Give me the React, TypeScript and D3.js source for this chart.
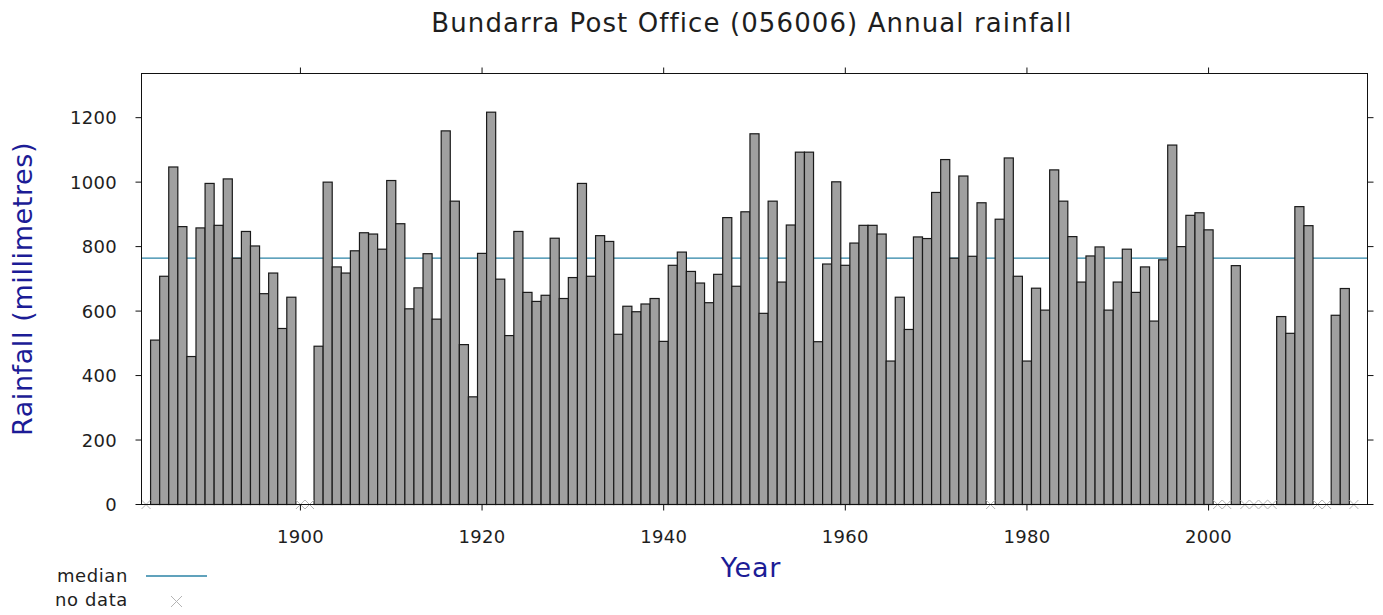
import * as d3 from "d3";

// annual rainfall, mm; null = no data
const firstYear = 1883;
const rainfall: (number | null)[] = [
  null, 510, 708, 1047, 862, 459, 858, 996, 866, 1010, // 1883-1892
  764, 847, 802, 654, 718, 546, 643, null, null, 491, // 1893-1902
  1000, 737, 718, 787, 843, 839, 792, 1005, 871, 607, // 1903-1912
  672, 778, 575, 1159, 941, 496, 334, 779, 1217, 699, // 1913-1922
  524, 847, 658, 630, 649, 826, 639, 704, 996, 708, // 1923-1932
  834, 816, 528, 615, 598, 622, 639, 506, 742, 783, // 1933-1942
  723, 687, 626, 714, 890, 677, 908, 1150, 593, 941, // 1943-1952
  690, 867, 1093, 1093, 505, 746, 1001, 742, 811, 866, // 1953-1962
  866, 839, 445, 643, 543, 830, 825, 968, 1070, 764, // 1963-1972
  1019, 770, 936, null, 885, 1075, 708, 445, 671, 603, // 1973-1982
  1038, 941, 831, 690, 771, 799, 603, 690, 792, 658, // 1983-1992
  737, 569, 759, 1115, 800, 897, 905, 852, null, null, // 1993-2002
  741, null, null, null, null, 583, 531, 924, 865, null, // 2003-2012
  null, 587, 670, null, // 2013-2016
];
const medianRainfall = 764;
const xTicks = [1900, 1920, 1940, 1960, 1980, 2000];
const yTicks = [0, 200, 400, 600, 800, 1000, 1200];

const W = 1383;
const H = 615;
const plot = { left: 141.5, right: 1367.5, top: 73.5, bottom: 504.5 };
const font = "'DejaVu Sans', Verdana, sans-serif";
const textColor = "#1e1e1e";
const labelColor = "#1c1c96";
const medianColor = "#2b83a6";
const tickLen = 6;

export default function App() {
  const rows = rainfall.map((v, i) => ({ year: firstYear + i, value: v }));

  const x = d3.scaleLinear().domain([1882.5, 2017.5]).range([plot.left, plot.right]);
  const y = d3.scaleLinear().domain([0, 1337]).range([plot.bottom, plot.top]);
  const bw = x(1) - x(0);

  return (
    <div style={{ position: "absolute", left: 0, top: 0 }}>
      <svg width={W} height={H} style={{ display: "block", background: "#fff" }}>
        <text
          x={752}
          y={32}
          textAnchor="middle"
          fontFamily={font}
          fontSize={26}
          letterSpacing={1.1}
          fill={textColor}
        >
          Bundarra Post Office (056006) Annual rainfall
        </text>

        {/* median */}
        <line
          x1={plot.left}
          x2={plot.right}
          y1={y(medianRainfall)}
          y2={y(medianRainfall)}
          stroke={medianColor}
          strokeWidth={1.3}
        />

        {rows
          .filter((d) => d.value != null)
          .map((d) => (
            <rect
              key={d.year}
              x={x(d.year) - bw / 2}
              y={y(d.value as number)}
              width={bw}
              height={y(0) - y(d.value as number)}
              fill="#a0a0a0"
              stroke="#1a1a1a"
              strokeWidth={1.2}
            />
          ))}

        {rows
          .filter((d) => d.value == null)
          .map((d) => {
            const cx = x(d.year);
            const cy = y(0);
            const s = 4.5;
            return (
              <path
                key={"nd" + d.year}
                d={`M${cx - s},${cy - s}L${cx + s},${cy + s}M${cx - s},${cy + s}L${cx + s},${cy - s}`}
                stroke="#b4b4b4"
                strokeWidth={1}
                fill="none"
              />
            );
          })}

        {/* frame */}
        <rect
          x={plot.left}
          y={plot.top}
          width={plot.right - plot.left}
          height={plot.bottom - plot.top}
          fill="none"
          stroke="#111"
          strokeWidth={1}
        />

        {yTicks.map((t) => (
          <g key={"y" + t}>
            <line x1={plot.left - tickLen} x2={plot.left} y1={y(t)} y2={y(t)} stroke="#111" />
            <line x1={plot.right} x2={plot.right + tickLen} y1={y(t)} y2={y(t)} stroke="#111" />
            <text
              x={117}
              y={y(t)}
              dy="0.36em"
              textAnchor="end"
              fontFamily={font}
              fontSize={18}
              letterSpacing={0.3}
              fill={textColor}
            >
              {t}
            </text>
          </g>
        ))}

        {xTicks.map((t) => (
          <g key={"x" + t}>
            <line x1={x(t)} x2={x(t)} y1={plot.bottom} y2={plot.bottom + tickLen} stroke="#111" />
            <line x1={x(t)} x2={x(t)} y1={plot.top - tickLen} y2={plot.top} stroke="#111" />
            <text
              x={x(t)}
              y={543}
              textAnchor="middle"
              fontFamily={font}
              fontSize={18}
              letterSpacing={0.3}
              fill={textColor}
            >
              {t}
            </text>
          </g>
        ))}

        <text
          transform="translate(32,289) rotate(-90)"
          textAnchor="middle"
          fontFamily={font}
          fontSize={27}
          letterSpacing={0.6}
          fill={labelColor}
        >
          Rainfall (millimetres)
        </text>
        <text
          x={751}
          y={577}
          textAnchor="middle"
          fontFamily={font}
          fontSize={27}
          letterSpacing={0.8}
          fill={labelColor}
        >
          Year
        </text>

        {/* legend */}
        <text x={128} y={582} textAnchor="end" fontFamily={font} fontSize={18} letterSpacing={0.6} fill={textColor}>
          median
        </text>
        <line x1={146} x2={207} y1={576} y2={576} stroke={medianColor} strokeWidth={1.3} />
        <text x={128} y={606} textAnchor="end" fontFamily={font} fontSize={18} letterSpacing={0.6} fill={textColor}>
          no data
        </text>
        <path d="M171,596L182,607M171,607L182,596" stroke="#b4b4b4" strokeWidth={1} fill="none" />
      </svg>
    </div>
  );
}
